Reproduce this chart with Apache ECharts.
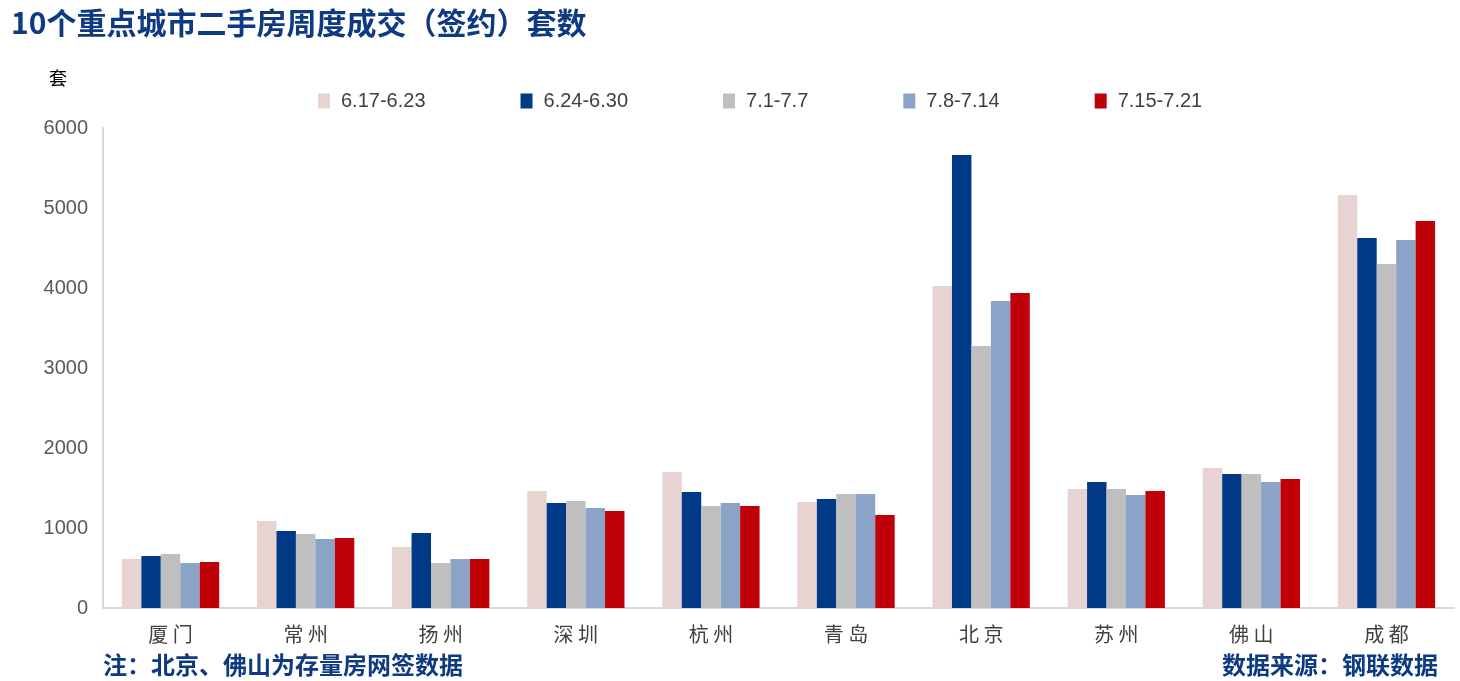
<!DOCTYPE html>
<html>
<head>
<meta charset="utf-8">
<script src="https://cdn.jsdelivr.net/npm/echarts@6/dist/echarts.min.js"></script>
<style>
html,body{margin:0;padding:0;background:#fff;}
#main{width:1460px;height:681px;}
</style>
</head>
<body>
<div id="main"></div>
<script>
const categories = ['厦门','常州','扬州','深圳','杭州','青岛','北京','苏州','佛山','成都'];
const seriesNames = ['6.17-6.23','6.24-6.30','7.1-7.7','7.8-7.14','7.15-7.21'];
const w0617 = [612,1087,762,1462,1700,1325,4025,1487,1750,5162];
const w0624 = [650,962,937,1312,1450,1362,5662,1575,1675,4625];
const w0701 = [675,925,562,1337,1275,1425,3275,1487,1675,4300];
const w0708 = [562,862,612,1250,1312,1425,3837,1412,1575,4600];
const w0715 = [575,875,612,1212,1275,1162,3937,1462,1612,4837];
const yTicks = [0,1000,2000,3000,4000,5000,6000];

const colors = ['#E8D3D3','#003A86','#BFBFBF','#8BA3C7','#C00008'];
const values = [w0617,w0624,w0701,w0708,w0715];

const chart = echarts.init(document.getElementById('main'));
chart.setOption({
  animation:false,
  title:{
    text:'10个重点城市二手房周度成交（签约）套数',
    left:6, top:3,
    textStyle:{fontFamily:'Noto Sans CJK SC', fontWeight:'bold', fontSize:30, color:'#0E3A82'}
  },
  legend:{
    data:seriesNames,
    left:318, top:91, padding:0,
    itemWidth:12, itemHeight:15, itemGap:95,
    icon:'rect',
    textStyle:{fontFamily:'Liberation Sans', fontSize:20, color:'#404040', padding:[0,0,0,6]}
  },
  grid:{left:103, right:6, top:128, bottom:73, containLabel:false},
  xAxis:{
    type:'category', data:categories,
    axisLine:{lineStyle:{color:'#D9D9D9', width:2}},
    axisTick:{show:false},
    axisLabel:{margin:16, fontFamily:'Noto Sans CJK SC', fontSize:20, color:'#404040',
      formatter:v=>v.split('').join(' ')}
  },
  yAxis:{
    type:'value', min:0, max:6000, interval:1000,
    axisLine:{show:true, lineStyle:{color:'#D9D9D9', width:2}},
    axisTick:{show:false},
    splitLine:{show:false},
    axisLabel:{margin:15, fontFamily:'Liberation Sans', fontSize:20, color:'#595959',
      formatter:v=>yTicks.includes(v)?String(v):''}
  },
  graphic:[
    {type:'text', left:49, top:69, style:{text:'套', fontFamily:'Noto Sans CJK SC', fontSize:18, fill:'#000'}},
    {type:'text', left:103, top:653, style:{text:'注：北京、佛山为存量房网签数据', fontFamily:'Noto Sans CJK SC', fontWeight:'bold', fontSize:24, fill:'#0E3A82'}},
    {type:'text', right:22, top:653, style:{text:'数据来源：钢联数据', fontFamily:'Noto Sans CJK SC', fontWeight:'bold', fontSize:24, fill:'#0E3A82'}}
  ],
  series: seriesNames.map((n,i)=>({
    name:n, type:'bar', data:values[i],
    barGap:'0%', barCategoryGap:'28%',
    itemStyle:{color:colors[i]}
  }))
});
</script>
</body>
</html>
